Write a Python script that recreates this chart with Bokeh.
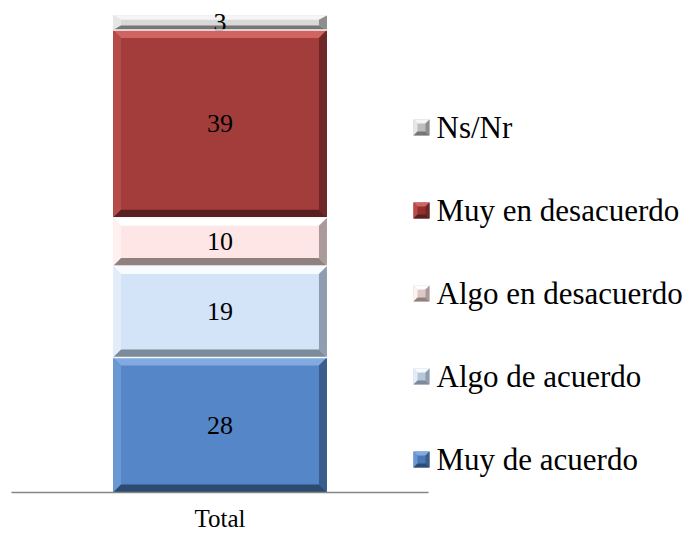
from bokeh.plotting import figure
from bokeh.models import Range1d, FixedTicker
from bokeh.core.properties import value
from bokeh.embed import file_html
from bokeh.resources import INLINE

# ---- data ----
categories = ["Total"]
series = ["Muy de acuerdo", "Algo de acuerdo", "Algo en desacuerdo", "Muy en desacuerdo", "Ns/Nr"]
values = [28, 19, 10, 39, 3]

# ---- style ----
base_colors = ["#5587C8", "#D3E3F8", "#FDE6E5", "#A33D3B", "#D9D9D9"]
top_colors = ["#82AAE0", "#F7FAFF", "#FFFFFF", "#CF6461", "#F5F5F5"]
left_colors = ["#6A98D3", "#E3EDFA", "#FFF1F0", "#B64C49", "#E6E6E6"]
right_colors = ["#3A5D8B", "#8F9DAE", "#AA9B9A", "#6D2827", "#8E8E8E"]
bottom_colors = ["#2D4A70", "#7D8A9A", "#8E8180", "#582020", "#767676"]
legend_fill = ["#4A78B5", "#B7C6D8", "#DCC8C7", "#93302E", "#BDBDBD"]

FONT = "Liberation Serif"
W, H = 684, 534
BOTTOM = 42
FRAME_H = H - BOTTOM
X0 = -0.02638
X1 = X0 + W / 417
Y1 = 102.11
center = 0.5
bar_w = 0.513

PXX = (X1 - X0) / W        # data units per pixel (x)
PXY = Y1 / FRAME_H         # data units per pixel (y)


def px_x(px):
    return X0 + px * PXX


def px_y(py):
    return (FRAME_H - py) * PXY


p = figure(width=W, height=H, output_backend="svg", toolbar_location=None,
           x_range=Range1d(X0, X1), y_range=Range1d(0, Y1),
           min_border_left=0, min_border_right=0, min_border_top=0,
           min_border_bottom=BOTTOM, y_axis_location=None)
p.outline_line_color = None
p.xgrid.visible = False
p.ygrid.visible = False
p.background_fill_color = "white"
p.border_fill_color = "white"


def bevel(xa, xb, y0, y1, dx, dy, i):
    xs = [
        [xa, xb, xb - dx, xa + dx],          # top
        [xa, xa, xa + dx, xa + dx],          # left
        [xb, xb, xb - dx, xb - dx],          # right
        [xa, xb, xb - dx, xa + dx],          # bottom
    ]
    ys = [
        [y1, y1, y1 - dy, y1 - dy],
        [y0, y1, y1 - dy, y0 + dy],
        [y0, y1, y1 - dy, y0 + dy],
        [y0, y0, y0 + dy, y0 + dy],
    ]
    cols = [top_colors[i], left_colors[i], right_colors[i], bottom_colors[i]]
    p.patches(xs=xs, ys=ys, fill_color=cols, line_color=None)


bottom = 0
for i, (name, v) in enumerate(zip(series, values)):
    y0, y1 = bottom, bottom + v
    xa, xb = center - bar_w / 2, center + bar_w / 2
    p.quad(left=[xa], right=[xb], bottom=[y0], top=[y1],
           fill_color=base_colors[i], line_color=None)
    bevel(xa, xb, y0, y1, 8 * PXX, min(8 * PXY, v * 0.3), i)
    p.text(x=[center], y=[(y0 + y1) / 2], text=[str(v)],
           text_font=value(FONT), text_font_size="26px", text_color="black",
           text_align="center", text_baseline="middle")
    bottom = y1

# thin separators between segments
cum = [sum(values[:k + 1]) for k in range(len(values) - 1)]
p.segment(x0=[center - bar_w / 2] * len(cum), x1=[center + bar_w / 2] * len(cum),
          y0=cum, y1=cum, line_color="#F4F6F8", line_width=1.5)

# x axis
ax = p.xaxis[0]
ax.ticker = FixedTicker(ticks=[center])
ax.major_label_overrides = {center: categories[0]}
ax.bounds = (0, 1)
ax.axis_line_color = "#868686"
ax.axis_line_width = 1.5
ax.major_tick_line_color = None
ax.minor_tick_line_color = None
ax.major_tick_out = 0
ax.major_tick_in = 0
ax.major_label_standoff = 12
ax.major_label_text_font = FONT
ax.major_label_text_font_size = "25px"
ax.major_label_text_color = "black"

# legend (drawn manually, top entry = last series)
LEG_X, LEG_TOP, LEG_STEP, SQ = 413, 127, 83, 16
for k, i in enumerate(reversed(range(len(series)))):
    cy = LEG_TOP + k * LEG_STEP
    xa, xb = px_x(LEG_X), px_x(LEG_X + SQ)
    ya, yb = px_y(cy + SQ / 2), px_y(cy - SQ / 2)
    p.quad(left=[xa], right=[xb], bottom=[ya], top=[yb],
           fill_color=legend_fill[i], line_color=None)
    bevel(xa, xb, ya, yb, 4 * PXX, 4 * PXY, i)
    p.text(x=[px_x(LEG_X + SQ + 7)], y=[px_y(cy)], text=[series[i]],
           text_font=value(FONT), text_font_size="31px", text_color="black",
           text_align="left", text_baseline="middle")

open("out.html", "w").write(file_html(p, INLINE))
